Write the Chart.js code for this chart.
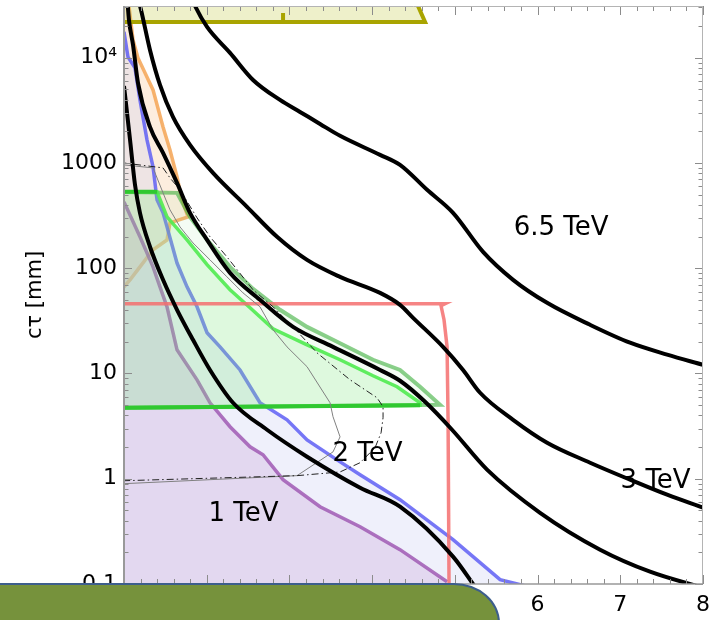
<!DOCTYPE html>
<html>
<head>
<meta charset="utf-8">
<script src="https://cdn.jsdelivr.net/npm/chart.js@4.4.1/dist/chart.umd.min.js"></script>
<style>
  body { margin: 0; background: #fff; }
  #wrap { position: relative; width: 719px; height: 620px; overflow: hidden; }
  #banner {
    position: absolute; left: -10px; top: 583px; width: 510px; height: 60px;
    background: #76923c; border: 2px solid #3d5e8c; box-sizing: border-box;
    border-top-right-radius: 46px 40px;
  }
</style>
</head>
<body>
<div id="wrap">
  <canvas id="chart" width="719" height="620"></canvas>
  <div id="banner"></div>
</div>
<script>
// axis ticks
const xTickValues = [1, 2, 3, 4, 5, 6, 7, 8];
const yTickValues = [0.1, 1, 10, 100, 1000, 10000];
const yTickLabels = ['0.1', '1', '10', '100', '1000', '10\u2074'];

// lifetime reach for each mass (black contours)
const tev1X = [1.0, 1.073, 1.133, 1.193, 1.314, 1.472, 1.641, 1.834, 2.040, 2.318, 2.729, 3.213, 3.854, 4.337, 4.978, 5.244];
const tev1Y = [5400, 1660, 620, 336, 160, 77.6, 40.3, 20.9, 10.8, 5.27, 2.92, 1.62, 0.822, 0.542, 0.182, 0.094];
const tev2X = [1.036, 1.060, 1.109, 1.169, 1.314, 1.472, 1.641, 1.798, 2.004, 2.282, 2.644, 3.044, 3.527, 4.096, 4.337, 4.640, 4.966, 5.389, 6.030, 6.756, 7.360, 8.0];
const tev2Y = [39500, 22850, 13240, 5770, 2200, 1247, 647, 336, 186, 90.4, 50.1, 27.7, 17.9, 10.8, 8.53, 5.38, 2.92, 1.22, 0.475, 0.212, 0.131, 0.092];
const tev3X = [1.157, 1.206, 1.314, 1.435, 1.592, 1.798, 2.076, 2.487, 2.850, 3.213, 3.612, 4.096, 4.337, 4.495, 4.857, 5.099, 5.305, 5.704, 6.115, 6.635, 7.118, 7.566, 8.0];
const tev3Y = [39500, 28400, 11860, 5520, 2740, 1486, 805, 383, 199, 120, 82.8, 58.3, 44.9, 33.8, 17.9, 10.8, 6.56, 3.63, 2.20, 1.42, 0.98, 0.705, 0.531];
const tev65X = [1.798, 1.859, 2.004, 2.282, 2.560, 2.886, 3.128, 3.370, 3.612, 4.096, 4.337, 4.664, 4.978, 5.341, 5.704, 6.115, 6.635, 7.118, 7.566, 8.0];
const tev65Y = [40400, 31000, 19600, 11120, 6150, 3970, 3055, 2350, 1810, 1195, 960, 556, 336, 143, 77.6, 46.9, 29.0, 19.6, 15.1, 12.1];

// excluded regions
const blueX = [1.0, 1.048, 1.133, 1.193, 1.278, 1.351, 1.399, 1.472, 1.520, 1.641, 1.762, 1.883, 2.004, 2.161, 2.403, 2.644, 2.971, 3.213, 3.576, 3.854, 4.337, 4.978, 5.547, 5.849];
const blueY = [17600, 10180, 8000, 3970, 1657, 918, 447, 336, 247, 112, 66.5, 43.0, 24.4, 17.9, 10.8, 5.27, 3.63, 2.34, 1.51, 1.09, 0.632, 0.264, 0.110, 0.096];
const purpleX = [1.0, 1.193, 1.351, 1.435, 1.520, 1.641, 1.883, 2.040, 2.282, 2.524, 2.681, 2.923, 3.370, 3.854, 4.337, 4.906];
const purpleY = [427, 199, 103, 66.5, 43.0, 16.8, 8.71, 5.27, 3.12, 2.01, 1.69, 0.98, 0.542, 0.350, 0.212, 0.105];
const orangeX = [0.95, 1.073, 1.193, 1.351, 1.520, 1.556, 1.774, 1.701, 1.641, 1.556, 1.472, 1.351, 1.169, 1.109, 1.060, 1.048, 0.95];
const orangeY = [60, 77.6, 103, 150, 186, 270, 308, 447, 738, 1330, 2200, 4940, 9960, 14750, 31000, 39500, 39500];
const greenAX = [0.95, 1.399, 1.520, 1.762, 2.004, 2.282, 2.524, 2.802, 3.213, 3.612, 4.011, 4.301, 4.579, 4.579, 0.95];
const greenAY = [532, 532, 308, 186, 108, 62.4, 42.1, 26.6, 18.7, 13.5, 9.51, 7.48, 5.27, 5.0, 4.72];
const greenBX = [0.95, 1.641, 1.798, 2.004, 2.282, 2.560, 2.886, 3.213, 3.527, 4.011, 4.337, 4.579, 4.821, 0.95];
const greenBY = [532, 520, 308, 186, 103, 63.7, 40.3, 27.7, 20.9, 13.5, 10.8, 7.48, 5.04, 4.72];
const greenTopX = [0.95, 1.40];
const greenTopY = [532, 532];
const greenBottomX = [0.95, 4.579];
const greenBottomY = [4.72, 5.0];
const redX = [0.95, 4.881, 4.833, 4.869, 4.906, 4.918, 4.930];
const redY = [45.9, 45.9, 44.0, 32.4, 17.9, 3.63, 0.088];
const yellowX = [4.495, 4.640, 2.923, 2.923, 2.923, 0.95, 0.95];
const yellowY = [39500, 21880, 21880, 26620, 21880, 21880, 39500];

// expected-limit contours
const thinX = [0.99, 3.092, 3.527, 3.612, 3.527, 3.491, 3.213, 2.971, 2.802, 2.644, 2.439, 2.245, 2.040, 1.834, 1.677, 1.556, 1.472, 1.351, 0.99];
const thinY = [0.897, 1.07, 1.80, 2.50, 3.88, 5.27, 11.6, 17.9, 26.0, 43.0, 58.3, 82.8, 120, 174, 247, 359, 520, 898, 960];
const dashX = [0.99, 3.092, 3.612, 3.854, 4.035, 4.108, 4.132, 4.132, 4.059, 3.733, 3.334, 3.044, 2.802, 2.560, 2.245, 2.040, 1.883, 1.677, 1.556, 1.472, 0.99];
const dashY = [0.957, 1.07, 1.16, 1.42, 1.97, 2.73, 3.80, 4.83, 5.88, 8.71, 15.7, 27.7, 43.0, 62.4, 128, 199, 301, 556, 721, 898, 1002];

// mass labels
const labelText = ['1 TeV', '2 TeV', '3 TeV', '6.5 TeV'];
const labelX = [2.445, 3.944, 7.427, 6.284];
const labelY = [0.491, 1.80, 1.01, 255];

const yDecades = [0.1, 1, 10, 100, 1000, 10000];

function pts(xs, ys) {
  return xs.map((x, i) => ({ x: x, y: ys[i] }));
}

function series(xs, ys, color, width, order, extra) {
  return Object.assign({
    data: pts(xs, ys),
    borderColor: color,
    borderWidth: width,
    pointRadius: 0,
    fill: false,
    tension: 0,
    clip: 0,
    order: order
  }, extra || {});
}

// black contours are drawn as smooth curves
const smooth = { cubicInterpolationMode: 'monotone' };

const axisFrame = {
  id: 'axisFrame',
  afterDatasetsDraw(chart) {
    const { ctx, chartArea: a, scales } = chart;
    const xs = scales.x, ys = scales.y;
    ctx.save();
    ctx.lineWidth = 1;
    ctx.strokeStyle = '#8c8c8c';
    ctx.beginPath();
    yDecades.forEach(d => {
      for (let k = 1; k <= 9; k++) {
        const v = d * k;
        if (v > ys.max) break;
        const py = Math.round(ys.getPixelForValue(v)) + 0.5;
        const len = k === 1 ? 8 : 4.5;
        ctx.moveTo(a.left, py); ctx.lineTo(a.left + len, py);
        ctx.moveTo(a.right, py); ctx.lineTo(a.right - len, py);
      }
    });
    for (let i = 0; i <= 35; i++) {
      const px = Math.round(xs.getPixelForValue(1 + i * 0.2)) + 0.5;
      const len = i % 5 === 0 ? 9 : 5;
      ctx.moveTo(px, a.bottom); ctx.lineTo(px, a.bottom - len);
      ctx.moveTo(px, a.top); ctx.lineTo(px, a.top + len);
    }
    ctx.stroke();

    ctx.strokeStyle = '#b4b4b4';
    ctx.beginPath();
    ctx.moveTo(a.left, a.top + 0.5); ctx.lineTo(a.right, a.top + 0.5);
    ctx.moveTo(a.right - 0.5, a.top); ctx.lineTo(a.right - 0.5, a.bottom);
    ctx.stroke();

    ctx.strokeStyle = '#999';
    ctx.lineWidth = 2;
    ctx.beginPath();
    ctx.moveTo(a.left, a.top); ctx.lineTo(a.left, a.bottom);
    ctx.stroke();
    ctx.lineWidth = 1.5;
    ctx.beginPath();
    ctx.moveTo(a.left, a.bottom); ctx.lineTo(a.right, a.bottom);
    ctx.stroke();
    ctx.restore();
  }
};

const massLabels = {
  id: 'massLabels',
  afterDatasetsDraw(chart) {
    const { ctx, scales } = chart;
    ctx.save();
    ctx.font = '26px "DejaVu Sans"';
    ctx.fillStyle = '#000';
    ctx.textAlign = 'center';
    ctx.textBaseline = 'alphabetic';
    labelText.forEach((t, i) => {
      const px = scales.x.getPixelForValue(labelX[i]);
      const py = scales.y.getPixelForValue(labelY[i]);
      ctx.fillText(t, px, py + 9.5);
    });
    ctx.restore();
  }
};

Chart.defaults.font.family = '"DejaVu Sans"';

new Chart(document.getElementById('chart'), {
  type: 'line',
  data: {
    datasets: [
      series(tev1X, tev1Y, '#000', 4, 1, smooth),
      series(tev2X, tev2Y, '#000', 4, 1, smooth),
      series(tev3X, tev3Y, '#000', 4, 1, smooth),
      series(tev65X, tev65Y, '#000', 4, 1, smooth),
      series(dashX, dashY, '#222', 1, 11, { borderDash: [7, 3, 1.5, 3] }),
      series(thinX, thinY, '#808080', 1, 12),
      series(yellowX, yellowY, '#a9a400', 4, 13, { fill: 'shape', backgroundColor: 'rgba(200,205,80,0.3)' }),
      series(redX, redY, 'rgba(245,110,110,0.85)', 3.5, 14),
      series(greenTopX, greenTopY, '#30c830', 4, 15),
      series(greenBottomX, greenBottomY, '#30c830', 4, 15),
      series(greenAX, greenAY, 'rgba(80,235,80,0.9)', 3.5, 16, { fill: 'shape', backgroundColor: 'rgba(120,240,120,0.18)' }),
      series(greenBX, greenBY, 'rgba(60,175,60,0.6)', 4, 17, { fill: 'shape', backgroundColor: 'rgba(150,230,150,0.1)' }),
      series(purpleX, purpleY, 'rgba(160,90,180,0.85)', 3.5, 18, { fill: 'start', backgroundColor: 'rgba(199,160,211,0.3)' }),
      series(blueX, blueY, 'rgba(95,95,245,0.85)', 3.5, 19, { fill: 'start', backgroundColor: 'rgba(202,205,242,0.3)' }),
      series(orangeX, orangeY, 'rgba(245,165,85,0.85)', 3.5, 20, { fill: 'shape', backgroundColor: 'rgba(245,165,90,0.2)' })
    ]
  },
  options: {
    responsive: false,
    animation: false,
    layout: { padding: { top: 6, right: 16, left: 0, bottom: 0 } },
    plugins: { legend: { display: false }, tooltip: { enabled: false } },
    scales: {
      x: {
        type: 'linear', min: 1, max: 8,
        afterBuildTicks: s => { s.ticks = xTickValues.map(v => ({ value: v })); },
        afterFit: s => { s.height = 36; s.paddingLeft = 0; s.paddingRight = 0; },
        ticks: { font: { size: 22 }, color: '#000', padding: 8, maxRotation: 0, autoSkip: false },
        grid: { display: false, drawTicks: false },
        border: { display: false }
      },
      y: {
        type: 'logarithmic', min: 0.1, max: 31000,
        afterBuildTicks: s => { s.ticks = yTickValues.map(v => ({ value: v })); },
        afterFit: s => { s.width = 124; s.paddingTop = 0; s.paddingBottom = 0; },
        ticks: {
          font: { size: 22 }, color: '#000', padding: 7, autoSkip: false,
          callback: v => { const i = yTickValues.indexOf(v); return i < 0 ? '' : yTickLabels[i]; }
        },
        grid: { display: false, drawTicks: false },
        border: { display: false },
        title: { display: true, text: 'c\u03c4 [mm]', color: '#000', font: { size: 21 }, padding: { top: 23, bottom: 0 } }
      }
    }
  },
  plugins: [axisFrame, massLabels]
});
</script>
</body>
</html>
